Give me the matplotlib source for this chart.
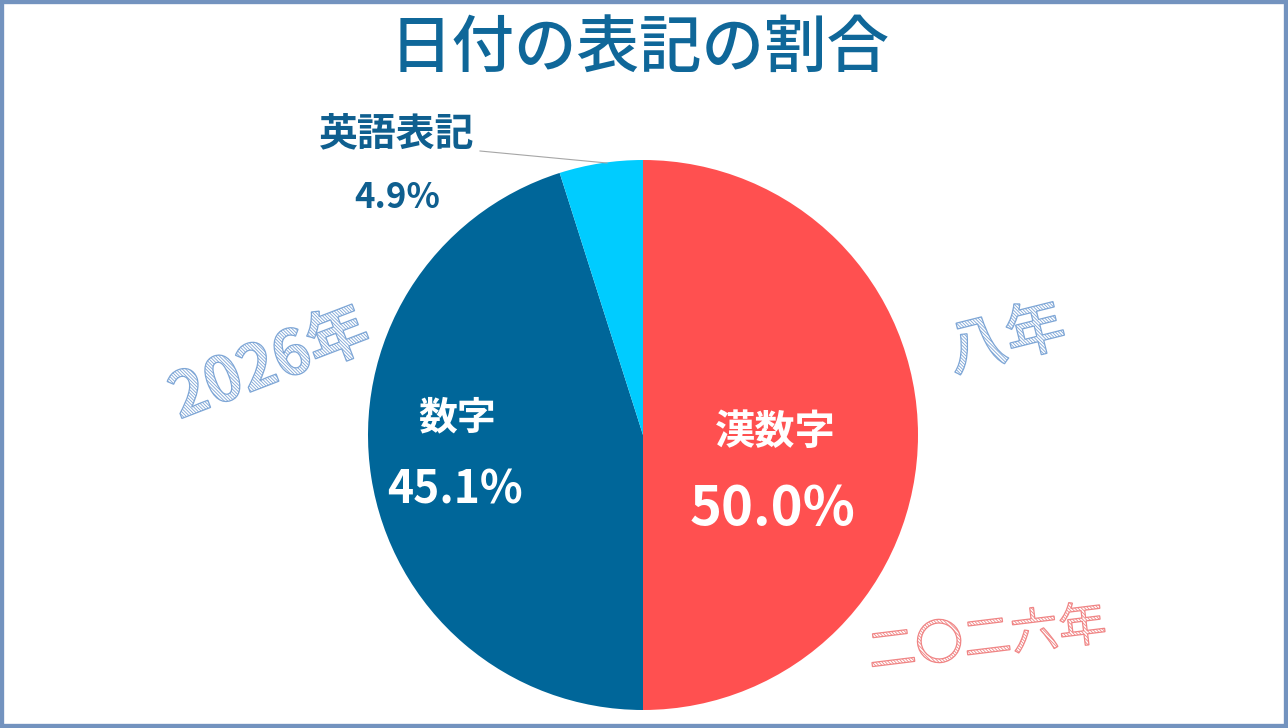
import numpy as np
import matplotlib.pyplot as plt
from matplotlib.textpath import TextPath
from matplotlib.patches import PathPatch, Rectangle
from matplotlib.font_manager import FontProperties
from matplotlib.transforms import Affine2D

plt.rcParams['font.family'] = ['Noto Sans CJK JP', 'DejaVu Sans']
plt.rcParams['hatch.linewidth'] = 0.6

W, H = 1288, 728
title = '日付の表記の割合'
labels = ['漢数字', '数字', '英語表記']
values = [50.0, 45.1, 4.9]
colors = ['#FF5050', '#006699', '#00CCFF']
deco_texts = ['2026年', '八年', '二〇二六年']

fig = plt.figure(figsize=(W / 100, H / 100), dpi=100)
fig.patch.set_facecolor('white')

# pie axes placed in pixels: centre (643, 435), radius 275
cx, cy, r = 643, 435, 275
ax = fig.add_axes([(cx - r) / W, (H - cy - r) / H, 2 * r / W, 2 * r / H])
ax.pie(values, colors=colors, startangle=90, counterclock=False, radius=1,
       wedgeprops=dict(linewidth=0))
ax.set_xlim(-1, 1)
ax.set_ylim(-1, 1)
ax.set_aspect('equal')
ax.axis('off')

# overlay axes in pixel coordinates (y up), drawn above the pie
ov = fig.add_axes([0, 0, 1, 1], zorder=5)
ov.set_xlim(0, W)
ov.set_ylim(0, H)
ov.axis('off')
ov.patch.set_alpha(0)

def px(x, y):
    return x, H - y

fig.text(640 / W, 1 - 50 / H, title, ha='center', va='center',
         fontsize=45, fontweight='medium', color='#0F6799')

# slice labels
ov.text(*px(775, 432), labels[0], ha='center', va='center', fontsize=29,
        fontweight='bold', color='white')
ov.text(*px(773, 510), f'{values[0]:.1f}%', ha='center', va='center', fontsize=39,
        fontweight='bold', color='white')
ov.text(*px(457, 418), labels[1], ha='center', va='center', fontsize=28,
        fontweight='bold', color='white')
ov.text(*px(455, 490), f'{values[1]:.1f}%', ha='center', va='center', fontsize=32,
        fontweight='bold', color='white')
ov.text(*px(397, 134), labels[2], ha='center', va='center', fontsize=28,
        fontweight='bold', color='#0F5F8F')
ov.text(*px(397, 197), f'{values[2]:.1f}%', ha='center', va='center', fontsize=25,
        fontweight='bold', color='#0F5F8F')
ov.plot([480, 607], [H - 151, H - 163], color='#A6A6A6', lw=0.8)


def hatched_text(s, x, y, size, angle, color, weight='bold'):
    prop = FontProperties(family='Noto Sans CJK JP', weight=weight)
    path = TextPath((0, 0), s, size=size, prop=prop)
    ext = path.get_extents()
    tr = Affine2D().translate(-(ext.x0 + ext.x1) / 2, -(ext.y0 + ext.y1) / 2) \
        .rotate_deg(angle).translate(x, H - y)
    path = tr.transform_path(path)
    patch = PathPatch(path, facecolor='white', edgecolor=color,
                      hatch='\\' * 10, lw=0.9)
    ov.add_patch(patch)


hatched_text(deco_texts[0], 268, 360, 62, 21, '#7EA6D6')
hatched_text(deco_texts[1], 1005, 335, 60, 14, '#7EA6D6', weight='medium')
hatched_text(deco_texts[2], 987, 635, 48, 7, '#F08585', weight='regular')

# border
fig.patches.append(Rectangle((0, 0), 1, 1, transform=fig.transFigure, fill=False,
                             edgecolor='#7393BF', lw=6, zorder=10))

fig.savefig('out.png', dpi=100)
